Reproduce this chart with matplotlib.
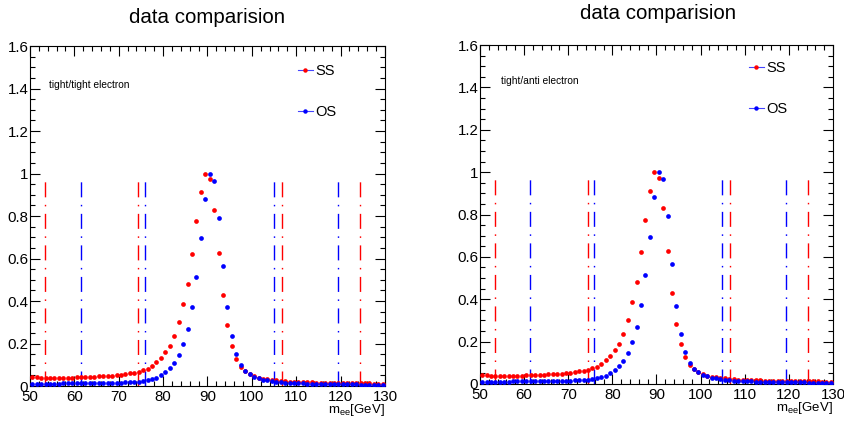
import matplotlib
matplotlib.use("Agg")
import matplotlib.pyplot as plt
from matplotlib.lines import Line2D
from matplotlib.ticker import MultipleLocator

plt.rcParams["font.family"] = ["Liberation Sans", "DejaVu Sans"]
plt.rcParams["mathtext.default"] = "regular"

# --- Adatok ---
mass = [50.5 + i for i in range(80)]  # bin centers, 1 GeV bins

ss = [0.042, 0.041, 0.040, 0.040, 0.039, 0.039, 0.039, 0.039, 0.040, 0.040,
      0.041, 0.041, 0.042, 0.043, 0.044, 0.045, 0.046, 0.047, 0.049, 0.051,
      0.053, 0.056, 0.059, 0.063, 0.068, 0.074, 0.082, 0.095, 0.112, 0.134,
      0.159, 0.190, 0.237, 0.300, 0.385, 0.480, 0.623, 0.775, 0.912, 1.000,
      0.972, 0.829, 0.628, 0.429, 0.285, 0.188, 0.127, 0.090, 0.070, 0.056,
      0.047, 0.040, 0.035, 0.031, 0.028, 0.026, 0.024, 0.022, 0.021, 0.020,
      0.019, 0.018, 0.017, 0.017, 0.016, 0.016, 0.015, 0.015, 0.014, 0.014,
      0.014, 0.013, 0.013, 0.013, 0.012, 0.012, 0.012, 0.011, 0.011, 0.011]

os_ = [0.011, 0.011, 0.011, 0.011, 0.011, 0.011, 0.011, 0.012, 0.012, 0.012,
       0.012, 0.012, 0.013, 0.013, 0.013, 0.014, 0.014, 0.015, 0.015, 0.016,
       0.016, 0.017, 0.018, 0.019, 0.020, 0.022, 0.026, 0.032, 0.040, 0.050,
       0.065, 0.085, 0.110, 0.148, 0.200, 0.268, 0.372, 0.514, 0.695, 0.881,
       1.000, 0.966, 0.793, 0.566, 0.370, 0.235, 0.152, 0.100, 0.072, 0.055,
       0.044, 0.036, 0.030, 0.026, 0.022, 0.019, 0.017, 0.015, 0.014, 0.013,
       0.012, 0.012, 0.011, 0.011, 0.010, 0.010, 0.010, 0.009, 0.009, 0.009,
       0.008, 0.008, 0.008, 0.008, 0.007, 0.007, 0.007, 0.007, 0.007, 0.006]

# window edges (vertical dash-dot lines)
red_cuts = [53.3, 74.4, 106.7, 124.4]
blue_cuts = [61.4, 75.9, 104.9, 119.4]
cut_top = 0.975

panels = [
    {"label": "tight/tight electron", "ss": ss, "os": os_},
    {"label": "tight/anti electron", "ss": ss, "os": os_},
]

# --- Abra ---
fig = plt.figure(figsize=(8.45, 4.21), dpi=100)
axes_rects = [[0.0355, 0.0831, 0.4201, 0.8076], [0.568, 0.0879, 0.4178, 0.805]]
title_pos = [(0.2456, 0.9596), (0.7787, 0.969)]
label_pos = [(0.054, 0.885), (0.061, 0.894)]
legend_pos = [(0.755, 0.946), (0.762, 0.953)]
xlab_y = [-0.07, -0.072]

for i, p in enumerate(panels):
    ax = fig.add_axes(axes_rects[i])

    dash = (0, (10.8, 5.4, 1.1, 5.4))
    for x in red_cuts:
        ax.plot([x, x], [0, cut_top], color="#ff0000", lw=1.0, linestyle=dash)
    for x in blue_cuts:
        ax.plot([x, x], [0, cut_top], color="#0000ff", lw=1.0, linestyle=dash)

    ax.plot(mass, p["ss"], "o", color="#ff0000", ms=3.4, mew=0, zorder=3)
    ax.plot(mass, p["os"], "o", color="#0000ff", ms=3.4, mew=0, zorder=3)

    ax.set_xlim(50, 130)
    ax.set_ylim(0, 1.6)
    ax.xaxis.set_major_locator(MultipleLocator(10))
    ax.xaxis.set_minor_locator(MultipleLocator(2))
    ax.yaxis.set_major_locator(MultipleLocator(0.2))
    ax.yaxis.set_minor_locator(MultipleLocator(0.05))
    ax.yaxis.set_major_formatter(lambda v, pos: f"{v:g}")
    ax.tick_params(which="both", direction="in", top=True, right=True,
                   width=0.8, labelsize=10.8)
    ax.tick_params(which="major", length=7)
    ax.tick_params(which="minor", length=3.5)
    ax.tick_params(axis="x", pad=3.0)
    ax.tick_params(axis="y", pad=1.2)
    for s in ax.spines.values():
        s.set_linewidth(0.8)

    ax.text(1.0, xlab_y[i], "m$_{ee}$[GeV]", transform=ax.transAxes,
            ha="right", va="center", fontsize=9.5)
    ax.text(label_pos[i][0], label_pos[i][1], p["label"], transform=ax.transAxes,
            ha="left", va="center", fontsize=7.3)

    handles = [
        Line2D([], [], color="#4444ff", lw=0.8, marker="o", ms=3.2, mew=0,
               markerfacecolor="#ff0000"),
        Line2D([], [], color="#4444ff", lw=0.8, marker="o", ms=3.2, mew=0,
               markerfacecolor="#0000ff"),
    ]
    ax.legend(handles, ["SS", "OS"], loc="upper left",
              bbox_to_anchor=legend_pos[i], frameon=False, fontsize=10.5,
              handlelength=1.0, handletextpad=0.2, labelspacing=1.85,
              borderpad=0, borderaxespad=0)

    fig.text(title_pos[i][0], title_pos[i][1], "data comparision",
             ha="center", va="center", fontsize=14.8)

fig.savefig("out.png", dpi=100)
